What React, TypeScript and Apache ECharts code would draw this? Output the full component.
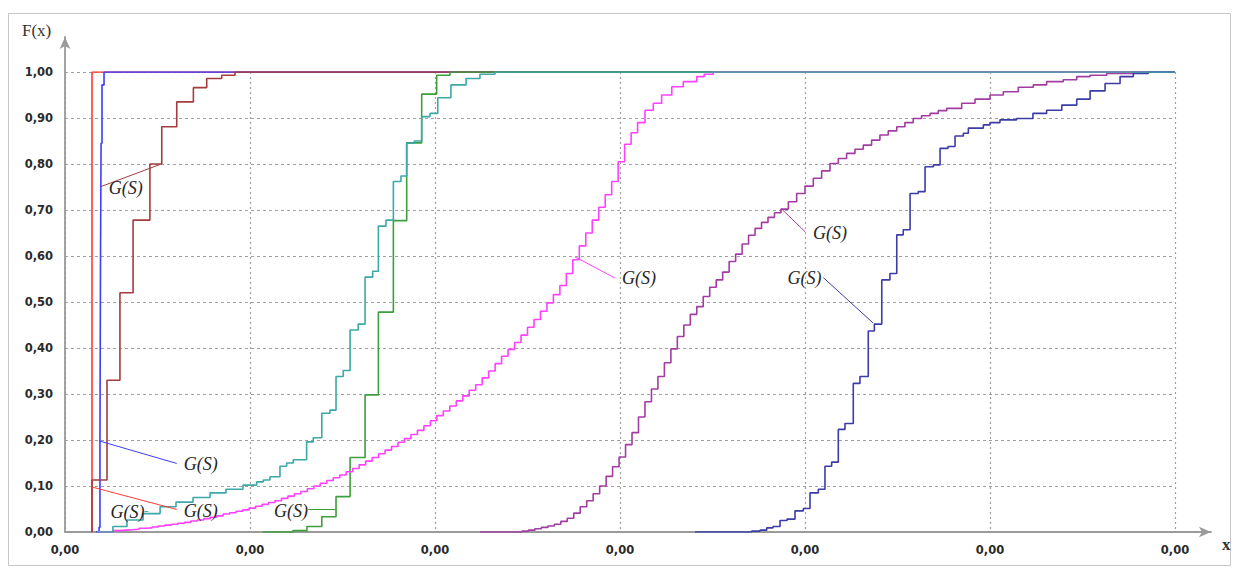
import React, { useEffect, useRef } from "react";
import * as echarts from "echarts";

// x is in grid units (one vertical gridline per unit); F is the CDF value after each jump
const red: [number, number][] = [[0.146, 0], [0.146, 1]];
const blue: [number, number][] = [
  [0.168, 0], [0.184, 0.01], [0.189, 0.2], [0.192, 0.6], [0.195, 0.845], [0.2, 0.972], [0.211, 1],
];
const brown: [number, number][] = [
  [0.146, 0], [0.146, 0.113], [0.227, 0.33], [0.297, 0.52], [0.368, 0.678], [0.459, 0.8],
  [0.523, 0.881], [0.604, 0.935], [0.694, 0.966], [0.766, 0.986], [0.847, 0.993], [0.919, 1],
];
const green: [number, number][] = [
  [1.07, 0], [1.232, 0.003], [1.308, 0.012], [1.388, 0.033], [1.465, 0.077], [1.541, 0.162],
  [1.622, 0.298], [1.694, 0.478], [1.775, 0.677], [1.847, 0.846], [1.928, 0.952], [2.009, 0.993], [2.081, 1],
];
const teal: [number, number][] = [
  [0.173, 0], [0.259, 0.012], [0.335, 0.026], [0.422, 0.04], [0.514, 0.055], [0.6, 0.065], [0.692, 0.075],
  [0.784, 0.085], [0.87, 0.093], [0.962, 0.102], [1.036, 0.109], [1.072, 0.113], [1.108, 0.12], [1.162, 0.143],
  [1.198, 0.15], [1.234, 0.157], [1.306, 0.196], [1.342, 0.205], [1.388, 0.258], [1.432, 0.265], [1.465, 0.338],
  [1.504, 0.351], [1.541, 0.439], [1.585, 0.452], [1.622, 0.554], [1.663, 0.567], [1.694, 0.665], [1.735, 0.678],
  [1.775, 0.762], [1.816, 0.774], [1.847, 0.845], [1.888, 0.85], [1.928, 0.903], [1.973, 0.91], [2.015, 0.944],
  [2.086, 0.972], [2.168, 0.986], [2.243, 0.995], [2.324, 1],
];
const magenta: [number, number][] = [
  [0.173, 0], [0.26, 0.003], [0.295, 0.004], [0.33, 0.005], [0.365, 0.006], [0.4, 0.008], [0.435, 0.009],
  [0.47, 0.011], [0.505, 0.013], [0.54, 0.015], [0.575, 0.017], [0.61, 0.019], [0.645, 0.021], [0.68, 0.024],
  [0.715, 0.026], [0.75, 0.029], [0.785, 0.032], [0.82, 0.035], [0.855, 0.039], [0.89, 0.042], [0.925, 0.045],
  [0.96, 0.048], [0.995, 0.052], [1.03, 0.056], [1.065, 0.06], [1.1, 0.064], [1.135, 0.068], [1.17, 0.073],
  [1.205, 0.078], [1.24, 0.083], [1.275, 0.088], [1.31, 0.094], [1.345, 0.1], [1.38, 0.106], [1.415, 0.112],
  [1.45, 0.118], [1.485, 0.124], [1.52, 0.131], [1.555, 0.138], [1.59, 0.146], [1.625, 0.154], [1.66, 0.162],
  [1.695, 0.17], [1.73, 0.178], [1.765, 0.186], [1.8, 0.195], [1.835, 0.203], [1.87, 0.212], [1.905, 0.221],
  [1.94, 0.231], [1.975, 0.242], [2.01, 0.253], [2.045, 0.263], [2.08, 0.274], [2.115, 0.285], [2.15, 0.296],
  [2.185, 0.308], [2.22, 0.32], [2.255, 0.335], [2.29, 0.35], [2.325, 0.366], [2.36, 0.382], [2.395, 0.397],
  [2.43, 0.412], [2.465, 0.428], [2.5, 0.445], [2.535, 0.462], [2.57, 0.48], [2.605, 0.498], [2.64, 0.516],
  [2.675, 0.536], [2.71, 0.562], [2.745, 0.592], [2.78, 0.622], [2.815, 0.65], [2.85, 0.678], [2.885, 0.706],
  [2.92, 0.733], [2.955, 0.762], [2.99, 0.805], [3.025, 0.843], [3.06, 0.868], [3.095, 0.89], [3.135, 0.917],
  [3.18, 0.932], [3.225, 0.95], [3.28, 0.968], [3.342, 0.979], [3.415, 0.99], [3.455, 0.995], [3.504, 1],
];
const purple: [number, number][] = [
  [2.243, 0], [2.47, 0.002], [2.505, 0.004], [2.54, 0.007], [2.575, 0.01], [2.61, 0.013], [2.645, 0.017],
  [2.68, 0.023], [2.715, 0.03], [2.75, 0.041], [2.785, 0.055], [2.82, 0.068], [2.855, 0.083], [2.89, 0.1],
  [2.925, 0.121], [2.96, 0.142], [2.995, 0.163], [3.03, 0.19], [3.065, 0.216], [3.1, 0.25], [3.135, 0.283],
  [3.17, 0.311], [3.205, 0.338], [3.24, 0.368], [3.275, 0.398], [3.31, 0.425], [3.345, 0.45], [3.38, 0.473],
  [3.415, 0.49], [3.45, 0.512], [3.485, 0.532], [3.52, 0.548], [3.555, 0.565], [3.59, 0.588], [3.625, 0.604],
  [3.66, 0.626], [3.695, 0.645], [3.73, 0.66], [3.765, 0.673], [3.8, 0.684], [3.835, 0.694], [3.87, 0.702],
  [3.91, 0.718], [3.955, 0.736], [4.0, 0.752], [4.045, 0.769], [4.09, 0.785], [4.135, 0.801], [4.18, 0.812],
  [4.225, 0.823], [4.27, 0.832], [4.315, 0.841], [4.36, 0.852], [4.405, 0.863], [4.45, 0.872], [4.496, 0.881],
  [4.54, 0.89], [4.585, 0.899], [4.63, 0.905], [4.676, 0.91], [4.72, 0.916], [4.766, 0.921], [4.847, 0.932],
  [4.919, 0.941], [5.0, 0.95], [5.072, 0.957], [5.153, 0.967], [5.234, 0.972], [5.306, 0.979], [5.396, 0.983],
  [5.469, 0.99], [5.541, 0.993], [5.631, 0.997], [5.773, 1],
];
const navy: [number, number][] = [
  [3.405, 0], [3.712, 0.002], [3.757, 0.004], [3.793, 0.009], [3.827, 0.012], [3.865, 0.025], [3.903, 0.028],
  [3.946, 0.046], [3.991, 0.051], [4.027, 0.085], [4.072, 0.093], [4.108, 0.143], [4.144, 0.152], [4.18, 0.223],
  [4.216, 0.236], [4.261, 0.323], [4.297, 0.338], [4.342, 0.437], [4.375, 0.452], [4.415, 0.548], [4.459, 0.562],
  [4.496, 0.646], [4.531, 0.657], [4.568, 0.736], [4.612, 0.74], [4.649, 0.794], [4.694, 0.798], [4.73, 0.834],
  [4.773, 0.838], [4.811, 0.861], [4.856, 0.867], [4.883, 0.878], [4.964, 0.885], [5.0, 0.89], [5.054, 0.896],
  [5.144, 0.899], [5.232, 0.91], [5.306, 0.917], [5.388, 0.928], [5.469, 0.941], [5.541, 0.959], [5.622, 0.975],
  [5.703, 0.99], [5.775, 0.997], [5.856, 1],
];

// annotation: label position and leader line (from, to), in data units
type Ann = { label: [number, number]; from: [number, number]; to: [number, number] } | null;

const X_MAX = 6;

const seriesDefs: { name: string; color: string; data: [number, number][]; ann: Ann }[] = [
  { name: "red", color: "#ff3a3a", data: red, ann: { label: [0.734, 0.046], from: [0.144, 0.098], to: [0.604, 0.049] } },
  { name: "blue", color: "#3c3cff", data: blue, ann: { label: [0.734, 0.148], from: [0.185, 0.198], to: [0.604, 0.149] } },
  { name: "brown", color: "#a53c3c", data: brown, ann: { label: [0.329, 0.748], from: [0.195, 0.751], to: [0.514, 0.799] } },
  { name: "green", color: "#3c9e3c", data: green, ann: { label: [1.221, 0.046], from: [1.315, 0.049], to: [1.465, 0.049] } },
  { name: "magenta", color: "#ff40ff", data: magenta, ann: { label: [3.103, 0.552], from: [2.757, 0.598], to: [2.973, 0.552] } },
  { name: "purple", color: "#a23ca2", data: purple, ann: { label: [4.135, 0.651], from: [3.874, 0.702], to: [4.0, 0.653] } },
  { name: "navy", color: "#3c3ca8", data: navy, ann: { label: [3.997, 0.552], from: [4.369, 0.454], to: [4.099, 0.553] } },
  { name: "teal", color: "#3ca8a8", data: teal, ann: { label: [0.338, 0.044], from: [0.43, 0.046], to: [0.45, 0.046] } },
];

const fmt = (v: number) => v.toFixed(2).replace(".", ",");

export default function App() {
  const ref = useRef<HTMLDivElement>(null);
  useEffect(() => {
    document.body.style.margin = "0";
    const chart = echarts.init(ref.current!, null, { renderer: "svg" });
    const labelStyle = {
      show: true,
      position: "inside" as const,
      formatter: "G(S)",
      fontFamily: "Liberation Serif",
      fontStyle: "italic" as const,
      fontSize: 18,
      color: "#262626",
    };
    const series: any[] = seriesDefs.map((s) => ({
      name: s.name,
      type: "line",
      step: "end",
      symbol: "none",
      xAxisIndex: 0,
      yAxisIndex: 0,
      data: [...s.data, [X_MAX, 1]],
      lineStyle: { color: s.color, width: 1.6 },
      itemStyle: { color: s.color },
      markLine: s.ann
        ? {
            silent: true,
            symbol: ["none", "none"],
            label: { show: false },
            lineStyle: { color: s.color, width: 1, type: "solid" },
            data: [[{ coord: s.ann.from }, { coord: s.ann.to }]],
          }
        : undefined,
      markPoint: s.ann
        ? {
            silent: true,
            symbol: "rect",
            symbolSize: 1,
            itemStyle: { color: "rgba(0,0,0,0)" },
            label: labelStyle,
            data: [{ coord: s.ann.label }],
          }
        : undefined,
    }));

    const arrowAxis = {
      type: "value",
      gridIndex: 1,
      min: 0,
      max: 1,
      axisLine: {
        show: true,
        symbol: ["none", "arrow"],
        symbolSize: [8, 12],
        lineStyle: { color: "#9a9a9a", width: 1.8 },
      },
      axisTick: { show: false },
      axisLabel: { show: false },
      splitLine: { show: false },
    };
    const tickLabel = {
      margin: 12,
      fontFamily: "DejaVu Sans",
      fontWeight: "bold",
      fontSize: 11.5,
      color: "#2a2a2a",
    };

    chart.setOption({
      animation: false,
      grid: [
        { left: 65, top: 72, width: 1110, height: 460 },
        { left: 65, top: 37, width: 1146, height: 495 },
      ],
      xAxis: [
        {
          type: "value",
          gridIndex: 0,
          min: 0,
          max: X_MAX,
          interval: 1,
          axisLine: { show: false },
          axisTick: { show: false },
          splitLine: { show: true, lineStyle: { color: "#a0a0a0", type: [2, 3], width: 1.2 } },
          axisLabel: { ...tickLabel, formatter: (v: number) => fmt(v / 10000) },
        },
        arrowAxis,
      ],
      yAxis: [
        {
          type: "value",
          gridIndex: 0,
          min: 0,
          max: 1,
          interval: 0.1,
          axisLine: { show: false },
          axisTick: { show: false },
          splitLine: { show: true, lineStyle: { color: "#a0a0a0", type: [3, 3], width: 1.2 } },
          axisLabel: { ...tickLabel, formatter: (v: number) => fmt(v) },
        },
        arrowAxis,
      ],
      graphic: [
        {
          type: "rect",
          shape: { x: 8.5, y: 13.5, width: 1222, height: 552 },
          style: { fill: "none", stroke: "#c8c8c8", lineWidth: 1 },
          silent: true,
        },
        {
          type: "text",
          left: 22,
          top: 22,
          style: { text: "F(x)", font: "17px 'Liberation Serif'", fill: "#333" },
        },
        {
          type: "text",
          left: 1222,
          top: 536,
          style: { text: "x", font: "bold 17px 'Liberation Serif'", fill: "#333" },
        },
      ],
      series,
    });
    return () => chart.dispose();
  }, []);
  return <div ref={ref} style={{ width: 1239, height: 570 }} />;
}
